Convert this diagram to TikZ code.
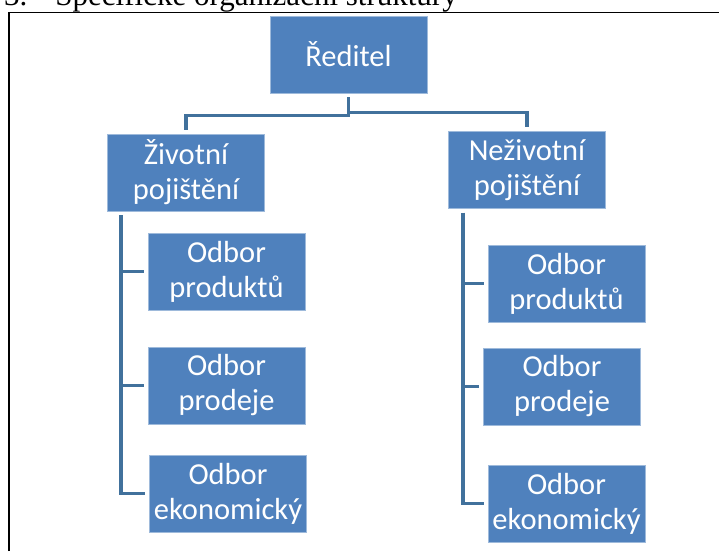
\documentclass[tikz,border=0pt]{standalone}
\usepackage{fontspec}
\setmainfont{Carlito}
\newfontfamily\titlefont{Liberation Serif}
\definecolor{boxblue}{HTML}{4F81BD}
\definecolor{lineblue}{HTML}{41719C}

\begin{document}
\begin{tikzpicture}[x=1pt,y=-1pt,
  box/.style={fill=boxblue,draw=boxblue!55!white,line width=0.6pt,minimum width=157pt,minimum height=77pt,
    inner sep=2pt,align=center,text=white,font=\fontsize{30.5}{35}\selectfont},
  conn/.style={draw=lineblue,line width=3.5pt,shorten <=4pt,shorten >=4pt}]
\useasboundingbox (0,0) rectangle (719,551);
% heading (cut off by the page) and frame
\node[anchor=base west,inner sep=0pt,font=\titlefont\fontsize{31}{36}\selectfont] (title) at (4,5.5)
  {3.\hspace{28pt}Specifické organizační struktury};
\draw[line width=1.5pt] (9,551) -- (9,12.5) -- (719,12.5);
% boxes
\node[box] (red) at (348.5,54.5) {Ředitel};
\node[box] (ziv) at (186,172.5) {Životní\\pojištění};
\node[box] (nez) at (527,170) {Neživotní\\pojištění};
\node[box] (zprod) at (226.5,271.5) {Odbor\\produktů};
\node[box] (zprodej) at (226.5,385.5) {Odbor\\prodeje};
\node[box] (zekon) at (228,493.5) {Odbor\\ekonomický};
\node[box] (nprod) at (566.5,283.5) {Odbor\\produktů};
\node[box] (nprodej) at (562,386.5) {Odbor\\prodeje};
\node[box] (nekon) at (566.5,503.5) {Odbor\\ekonomický};
% connectors
\draw[conn] (red.south) -- ([yshift=-22pt]red.south) -| (ziv.north);
\draw[conn] (red.south) -- ([yshift=-19pt]red.south) -| (nez.north);
\foreach \c in {zprod,zprodej,zekon}
  \draw[conn] ([xshift=14pt]ziv.south west) |- (\c.west);
\foreach \c in {nprod,nprodej,nekon}
  \draw[conn] ([xshift=15pt]nez.south west) |- (\c.west);
\end{tikzpicture}
\end{document}
